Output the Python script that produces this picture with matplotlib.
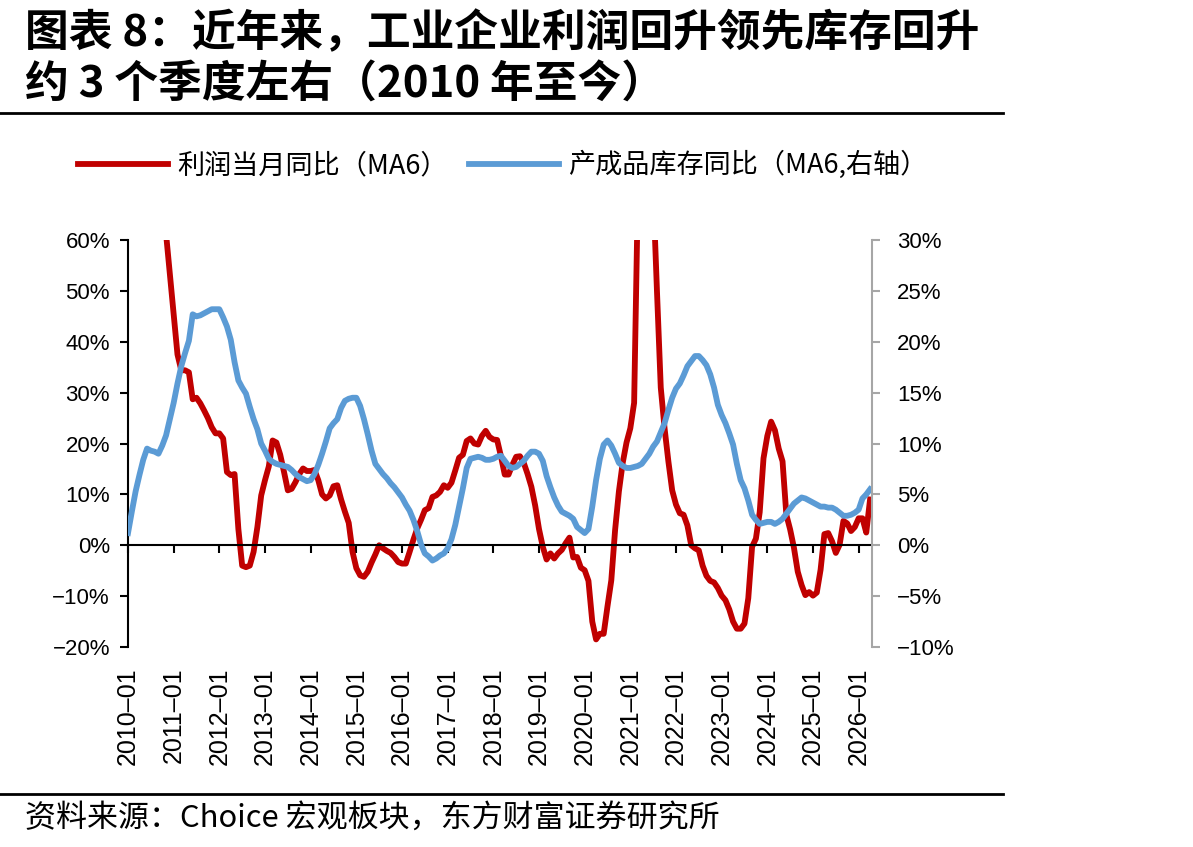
import numpy as np
import matplotlib
matplotlib.use("Agg")
import matplotlib.pyplot as plt
from matplotlib.lines import Line2D
from matplotlib.ticker import FuncFormatter

plt.rcParams['font.family'] = ['Liberation Sans', 'Noto Sans CJK SC', 'DejaVu Sans']
CJK = ['Noto Sans CJK SC', 'DejaVu Sans']

# monthly values, 2010-01 onwards (%)
profit_ma6 = [
    135, 130, 125, 117, 109, 101, 93, 85, 77, 69, 61.2, 53.3,
    45.4, 37.5, 34.4, 34.4, 34.0, 28.7, 29.0, 27.9, 26.5, 25.0, 23.2, 22.0,
    22.0, 21.0, 14.4, 13.8, 14.0, 3.2, -4.0, -4.3, -4.0, -1.3, 3.6, 9.8,
    12.8, 15.5, 20.6, 20.2, 17.8, 14.4, 10.8, 11.1, 12.4, 14.0, 15.1, 14.6,
    14.6, 14.8, 12.8, 10.0, 9.2, 9.8, 11.6, 11.8, 9.0, 6.6, 4.4, -1.3,
    -4.5, -5.9, -6.2, -5.2, -3.4, -1.8, 0.0, -0.6, -1.1, -1.5, -2.3, -3.3,
    -3.6, -3.6, -1.3, 1.1, 3.3, 5.0, 6.9, 7.3, 9.5, 9.8, 10.5, 11.8,
    11.3, 12.3, 14.7, 17.2, 17.8, 20.5, 21.0, 20.0, 19.8, 21.5, 22.5, 21.3,
    20.8, 20.7, 17.5, 13.9, 13.9, 15.8, 17.4, 17.5, 16.2, 14.0, 11.5, 7.8,
    3.2, -0.3, -2.8, -1.6, -2.6, -1.6, -0.9, 0.4, 1.5, -2.4, -2.3, -4.4,
    -4.9, -7.0, -15.0, -18.5, -17.4, -17.4, -12.0, -6.9, 3.0, 10.6, 16.2, 20.2,
    23.0, 28.0, 70, 100, 110, 95, 70, 50, 31.0, 23.0, 16.5, 10.8,
    8.0, 6.3, 6.0, 3.9, 0.0, -0.6, -1.0, -4.0, -6.0, -7.0, -7.3, -8.4,
    -9.9, -10.8, -12.6, -15.0, -16.4, -16.4, -15.4, -10.4, -0.3, 1.3, 6.5, 17.1,
    21.5, 24.3, 22.6, 19.0, 16.5, 6.0, 3.1, -0.5, -5.2, -7.8, -9.8, -9.2,
    -9.9, -9.3, -4.8, 2.2, 2.4, 0.8, -1.5, 0.1, 4.8, 4.3, 2.8, 3.6,
    5.3, 5.3, 2.5, 9.0,
]
inventory_ma6 = [
    1.2, 3.3, 5.3, 6.9, 8.4, 9.5, 9.3, 9.2, 9.0, 9.8, 10.8, 12.4,
    14.0, 15.9, 17.6, 18.9, 20.1, 22.7, 22.5, 22.6, 22.8, 23.0, 23.2, 23.2,
    23.2, 22.4, 21.5, 20.2, 18.0, 16.2, 15.5, 14.9, 13.6, 12.4, 11.4, 10.0,
    9.3, 8.5, 8.2, 8.0, 7.9, 7.8, 7.7, 7.4, 7.0, 6.7, 6.5, 6.3,
    6.4, 7.0, 7.9, 9.0, 10.2, 11.5, 12.0, 12.4, 13.5, 14.2, 14.4, 14.5,
    14.5, 13.7, 12.4, 10.9, 9.3, 8.0, 7.5, 7.0, 6.6, 6.1, 5.7, 5.2,
    4.7, 4.0, 3.4, 2.5, 1.4, 0.1, -0.8, -1.1, -1.5, -1.3, -1.0, -0.8,
    -0.3, 0.6, 2.0, 3.8, 5.6, 7.6, 8.5, 8.6, 8.7, 8.6, 8.4, 8.4,
    8.5, 8.7, 8.8, 8.3, 7.8, 7.6, 7.7, 8.0, 8.3, 8.8, 9.2, 9.2,
    9.0, 8.3, 6.8, 5.7, 4.7, 3.9, 3.3, 3.1, 2.9, 2.6, 1.8, 1.5,
    1.2, 1.6, 3.8, 6.4, 8.5, 9.9, 10.3, 9.8, 9.0, 8.1, 7.8, 7.6,
    7.6, 7.7, 7.8, 8.0, 8.5, 9.0, 9.7, 10.2, 11.1, 12.0, 13.3, 14.5,
    15.4, 15.9, 16.7, 17.6, 18.1, 18.6, 18.6, 18.2, 17.7, 16.8, 15.5, 13.8,
    12.8, 12.0, 11.0, 9.9, 8.0, 6.4, 5.6, 4.4, 3.0, 2.5, 2.1, 2.2,
    2.3, 2.3, 2.1, 2.3, 2.6, 3.1, 3.6, 4.1, 4.4, 4.7, 4.6, 4.4,
    4.2, 4.0, 3.8, 3.8, 3.7, 3.7, 3.5, 3.2, 2.9, 2.9, 3.0, 3.2,
    3.5, 4.6, 5.0, 5.5,
]
years = list(range(2010, 2027))
year_labels = [f"{y}–01" for y in years]

fig = plt.figure(figsize=(11.93, 8.47), dpi=100)
ax = fig.add_axes([0.1073, 0.2361, 0.6236, 0.4805])
ax2 = ax.twinx()

x = np.arange(len(profit_ma6))
l1, = ax.plot(x, profit_ma6, color='#C00000', lw=4.2, label='利润当月同比（MA6）')
l2, = ax2.plot(x, inventory_ma6, color='#5B9BD5', lw=4.2, label='产成品库存同比（MA6,右轴）')

ax.set_xlim(0, 195.5)
ax.set_ylim(-20, 60)
ax.set_yticks(np.arange(-20, 61, 10))
ax2.set_ylim(-10, 30)
ax2.set_yticks(np.arange(-10, 31, 5))
pct = FuncFormatter(lambda v, p: f"{v:.0f}%".replace('-', '−'))
ax.yaxis.set_major_formatter(pct)
ax2.yaxis.set_major_formatter(pct)

# left axis + zero line with year ticks
ax.spines['top'].set_visible(False)
ax.spines['right'].set_visible(False)
ax.spines['bottom'].set_position(('data', 0))
ax.spines['bottom'].set_linewidth(1.5)
ax.spines['left'].set_linewidth(1.5)
ax.set_xticks([(y - 2010) * 12 for y in years])
ax.tick_params(axis='x', direction='out', length=6, width=1.5, labelbottom=False)
ax.tick_params(axis='y', direction='out', length=6, width=1.5, labelsize=16, pad=7)

for s in ['top', 'left', 'bottom']:
    ax2.spines[s].set_visible(False)
ax2.spines['right'].set_color('#A6A6A6')
ax2.spines['right'].set_linewidth(1.5)
ax2.tick_params(axis='y', direction='out', length=6, width=1.5, color='#A6A6A6',
                labelsize=16, pad=12)

# date labels along the bottom of the plot
secax = ax.secondary_xaxis('bottom')
secax.set_xticks([(y - 2010) * 12 for y in years], labels=year_labels, rotation=90, fontsize=18)
secax.tick_params(length=0, pad=15)
secax.spines['bottom'].set_visible(False)

# legend
fig.legend([l1, l2], [l1.get_label(), l2.get_label()], loc='center',
           bbox_to_anchor=(503 / 1193, 1 - 165 / 847), ncol=2, frameon=False,
           prop={'family': CJK, 'size': 19.5}, handlelength=3.3, handletextpad=0.35,
           columnspacing=0.8)

# title and source
fig.text(25 / 1193, 1 - 33 / 847, '图表 8：近年来，工业企业利润回升领先库存回升',
         fontsize=31.5, fontweight='bold', family=CJK, va='center')
fig.text(25 / 1193, 1 - 85 / 847, '约 3 个季度左右（2010 年至今）',
         fontsize=31.5, fontweight='bold', family=CJK, va='center')
fig.add_artist(Line2D([0, 1003 / 1193], [1 - 113 / 847] * 2, color='black', lw=2))
fig.add_artist(Line2D([0, 1003 / 1193], [1 - 794 / 847] * 2, color='black', lw=2))
fig.text(25 / 1193, 1 - 818 / 847, '资料来源：Choice 宏观板块，东方财富证券研究所',
         fontsize=22.3, family=CJK, va='center')

fig.savefig('out.png', dpi=100, facecolor='white')
